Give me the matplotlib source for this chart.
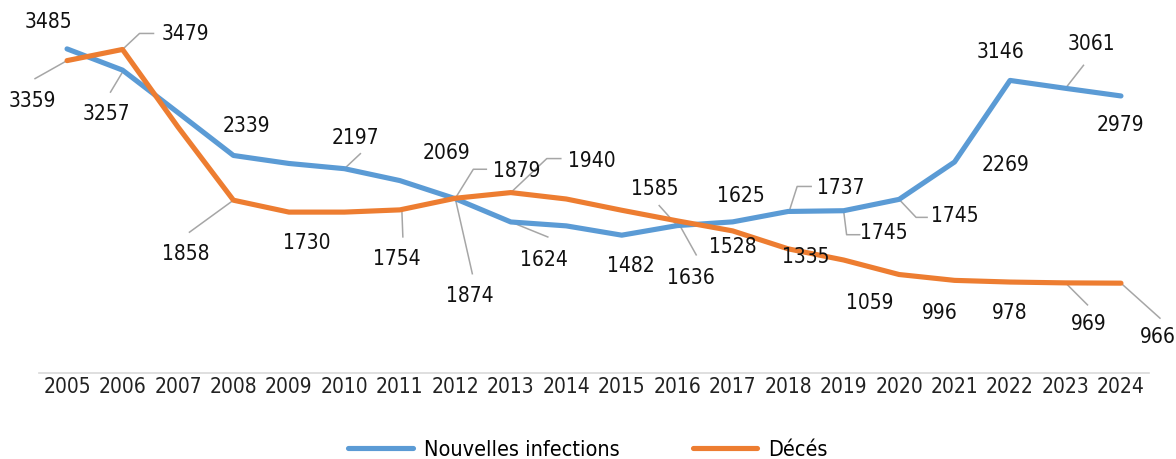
import matplotlib
matplotlib.use("Agg")
import matplotlib.pyplot as plt
from matplotlib.lines import Line2D
from matplotlib.transforms import IdentityTransform

# ---------------- data ----------------
years = [str(y) for y in range(2005, 2025)]
infections = [3485, 3257, 2800, 2339, 2253, 2197, 2069, 1874, 1624, 1582,
              1482, 1585, 1625, 1737, 1745, 1867, 2269, 3146, 3061, 2979]
deces = [3359, 3479, 2645, 1858, 1730, 1730, 1754, 1879, 1940, 1871,
         1750, 1636, 1528, 1335, 1215, 1059, 996, 978, 969, 966]
infection_labels = ["3485", "3257", None, "2339", None, "2197", "2069", "1874", "1624", None,
                    "1482", "1585", "1625", "1737", "1745", "1745", "2269", "3146", "3061", "2979"]
deces_labels = ["3359", "3479", None, "1858", "1730", None, "1754", "1879", "1940", None,
                None, "1636", "1528", "1335", None, "1059", "996", "978", "969", "966"]
series_names = ["Nouvelles infections", "Décés"]

# ---------------- label layout (pixel offsets from point, y down) ----------------
inf_layout = {
    0: ((-19, -27), None),
    1: ((-16, 44), [(0, 2), (-12, 22)]),
    3: ((13, -29), None),
    5: ((11, -31), [(0, 0), (16, -15)]),
    6: ((47, -28), None),
    7: ((14, 97), [(0, 0), (17, 75)]),
    8: ((33, 38), [(0, 0), (37, 15)]),
    10: ((9, 31), None),
    11: ((-22, -37), [(0, 0), (-18, -20)]),
    12: ((8, -26), None),
    13: ((53, -23), [(1, 0), (9, -25), (23, -25)]),
    14: ((40, 22), [(0, 0), (3, 24), (16, 24)]),
    15: ((56, 17), [(0, 0), (17, 18), (28, 18)]),
    16: ((51, 3), None),
    17: ((-10, -28), None),
    18: ((26, -44), [(0, 0), (18, -23)]),
    19: ((-1, 29), None),
}
dec_layout = {
    0: ((-35, 40), [(0, 0), (-32, 18)]),
    1: ((63, -15), [(0, 0), (17, -16), (31, -16)]),
    3: ((-48, 54), [(0, 0), (-44, 32)]),
    4: ((18, 31), None),
    6: ((-3, 49), [(2, 0), (3, 27)]),
    7: ((61, -27), [(0, 0), (18, -29), (31, -29)]),
    8: ((81, -32), [(0, 0), (36, -34), (50, -34)]),
    11: ((14, 57), [(0, 0), (19, 34)]),
    12: ((0, 16), None),
    13: ((18, 8), None),
    15: ((-29, 28), None),
    16: ((-15, 33), None),
    17: ((0, 31), None),
    18: ((23, 41), [(0, 0), (22, 22)]),
    19: ((37, 54), [(0, 0), (39, 35)]),
}

BLUE = "#5B9BD5"
ORANGE = "#ED7D31"
GREY = "#A6A6A6"
plt.rcParams["font.family"] = ["DejaVu Sans"]
plt.rcParams["font.stretch"] = "condensed"

W, H = 1176, 459
fig = plt.figure(figsize=(W / 100, H / 100), dpi=100)
fig.patch.set_facecolor("white")
ax = fig.add_axes([39.3 / W, (H - 373) / H, 1109.4 / W, 372 / H])
ax.patch.set_visible(False)

x = list(range(len(years)))
ax.plot(x, infections, color=BLUE, lw=3.7, solid_capstyle="round",
        solid_joinstyle="round", zorder=3)
ax.plot(x, deces, color=ORANGE, lw=3.7, solid_capstyle="round",
        solid_joinstyle="round", zorder=3)

ax.set_xlim(-0.5, len(years) - 0.5)
ax.set_ylim(0, 4000)
ax.set_xticks(x)
ax.set_xticklabels(years, fontsize=15, color="#222222")
ax.set_yticks([])
ax.tick_params(axis="x", length=0, pad=3)
for s in ["top", "left", "right"]:
    ax.spines[s].set_visible(False)
ax.spines["bottom"].set_color("#D9D9D9")
ax.spines["bottom"].set_linewidth(1.2)


def draw_labels(values, labels, layout):
    for i, lab in enumerate(labels):
        if lab is None or i not in layout:
            continue
        (dx, dy), path = layout[i]
        ax.annotate(lab, xy=(i, values[i]), xytext=(dx, -dy), textcoords="offset pixels",
                    ha="center", va="center", fontsize=15, color="#111111", zorder=5)
        if path:
            px, py = ax.transData.transform((i, values[i]))
            xs = [px + a for a, b in path]
            ys = [py - b for a, b in path]
            ax.add_artist(Line2D(xs, ys, transform=IdentityTransform(), color=GREY,
                                 lw=1.1, zorder=2, clip_on=False))


draw_labels(infections, infection_labels, inf_layout)
draw_labels(deces, deces_labels, dec_layout)

h1 = Line2D([], [], color=BLUE, lw=3.7, solid_capstyle="round")
h2 = Line2D([], [], color=ORANGE, lw=3.7, solid_capstyle="round")
fig.legend([h1, h2], series_names, loc="center", bbox_to_anchor=(0.5, (H - 450) / H),
           ncol=2, frameon=False, fontsize=15.5, handlelength=3.0, handletextpad=0.5,
           columnspacing=3.4)

fig.savefig("out.png", dpi=100, facecolor="white")
